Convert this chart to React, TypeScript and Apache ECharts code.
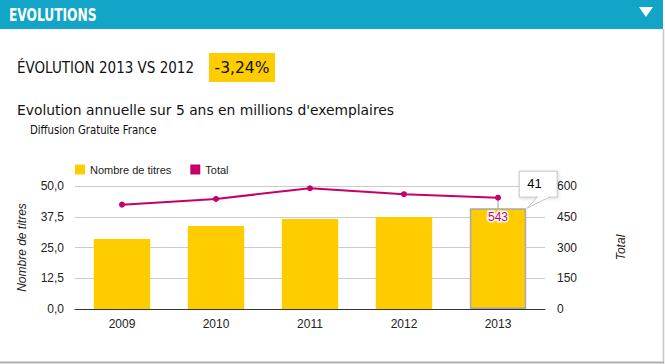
import React, { useEffect, useRef } from "react";
import * as echarts from "echarts";

const years = ["2009", "2010", "2011", "2012", "2013"];
const titres = [28.5, 33.7, 36.6, 37.4, 41];
const totals = [509, 537, 589, 560, 543];
const headerTitle = "EVOLUTIONS";
const evoLabel = "ÉVOLUTION 2013 VS 2012";
const evoValue = "-3,24%";
const subtitle = "Evolution annuelle sur 5 ans en millions d'exemplaires";
const subsubtitle = "Diffusion Gratuite France";
const focusIndex = 4;

const YELLOW = "#ffcc00";
const MAGENTA = "#c6006b";
const TEAL = "#12a5c7";

export default function App() {
  const ref = useRef<HTMLDivElement>(null);
  useEffect(() => {
    document.body.style.margin = "0";
    const chart = echarts.init(ref.current!, null, { renderer: "svg" });
    const baseGraphic: any[] = [
      { id: "hdr", type: "rect", shape: { x: 0, y: 0, width: 663, height: 29 }, style: { fill: TEAL }, z: 10 },
      {
        id: "hdrText", type: "text", x: 9, y: 15, scaleX: 0.8, z: 11,
        style: { text: headerTitle, x: 0, y: 0, fill: "#fff", font: "bold 17px 'DejaVu Sans Condensed'", textVerticalAlign: "middle" },
      },
      { id: "tri", type: "polygon", shape: { points: [[639, 7], [653, 7], [646, 17]] }, style: { fill: "#fff" }, z: 11 },
      { id: "rb", type: "line", shape: { x1: 663.5, y1: 29, x2: 663.5, y2: 364 }, style: { stroke: "#c8c8c8", lineWidth: 1.5 } },
      { id: "bb", type: "line", shape: { x1: 0, y1: 362.5, x2: 664, y2: 362.5 }, style: { stroke: "#b0b0b0", lineWidth: 2 } },
      {
        id: "evo", type: "text", x: 17, y: 68, scaleX: 1.0,
        style: { text: evoLabel, x: 0, y: 0, fill: "#111", font: "15px 'DejaVu Sans Condensed'", textVerticalAlign: "middle" },
      },
      { id: "evoBox", type: "rect", shape: { x: 209, y: 53, width: 66, height: 29 }, style: { fill: YELLOW } },
      {
        id: "evoVal", type: "text", x: 242, y: 68, scaleX: 1.15,
        style: { text: evoValue, x: 0, y: 0, fill: "#111", font: "15px 'DejaVu Sans Condensed'", textAlign: "center", textVerticalAlign: "middle" },
      },
      {
        id: "sub", type: "text", x: 17, y: 110, scaleX: 1.1,
        style: { text: subtitle, x: 0, y: 0, fill: "#111", font: "14px 'DejaVu Sans Condensed'", textVerticalAlign: "middle" },
      },
      {
        id: "subsub", type: "text", x: 30, y: 130, scaleX: 0.94,
        style: { text: subsubtitle, x: 0, y: 0, fill: "#111", font: "12px 'DejaVu Sans Condensed'", textVerticalAlign: "middle" },
      },
    ];

    const option: any = {
      animation: false,
      backgroundColor: "#fff",
      textStyle: { fontFamily: "'Liberation Sans', Arial, sans-serif" },
      legend: {
        left: 75, top: 164, padding: 0, itemWidth: 10, itemHeight: 10, itemGap: 19, icon: "rect",
        textStyle: { fontSize: 11, color: "#222" },
        data: ["Nombre de titres", "Total"],
      },
      grid: { left: 75, right: 120, top: 186, bottom: 55 },
      xAxis: {
        type: "category", data: years,
        axisLine: { lineStyle: { color: "#333" } },
        axisTick: { show: false },
        axisLabel: { color: "#222", fontSize: 12, margin: 9 },
      },
      yAxis: [
        {
          type: "value", min: 0, max: 50, interval: 12.5,
          name: "Nombre de titres", nameLocation: "middle", nameGap: 47, nameRotate: 90,
          nameTextStyle: { fontStyle: "italic", fontSize: 12, color: "#222" },
          axisLabel: { color: "#222", fontSize: 12, margin: 11, formatter: (v: number) => v.toFixed(1).replace(".", ",") },
          splitLine: { lineStyle: { color: "#cccccc" } },
          axisLine: { show: false }, axisTick: { show: false },
        },
        {
          type: "value", min: 0, max: 600, interval: 150, position: "right",
          name: "Total", nameLocation: "middle", nameGap: 70, nameRotate: 90,
          nameTextStyle: { fontStyle: "italic", fontSize: 12, color: "#222" },
          axisLabel: { color: "#222", fontSize: 12, margin: 12 },
          splitLine: { show: false },
          axisLine: { show: false }, axisTick: { show: false },
        },
      ],
      series: [
        {
          type: "bar", name: "Nombre de titres", barWidth: "60%",
          itemStyle: { color: YELLOW },
          data: titres.map((v, i) =>
            i === focusIndex ? { value: v, itemStyle: { borderColor: "#a8a8a8", borderWidth: 1.5 } } : v
          ),
        },
        {
          type: "line", name: "Total", yAxisIndex: 1, symbol: "circle", symbolSize: 6,
          lineStyle: { width: 2, color: MAGENTA }, itemStyle: { color: MAGENTA },
          label: { show: false, position: "bottom", distance: 10, color: MAGENTA, fontSize: 12, textBorderColor: "#fff", textBorderWidth: 3 },
          data: totals.map((v, i) => (i === focusIndex ? { value: v, label: { show: true } } : v)),
          z: 5,
        },
      ],
      graphic: baseGraphic,
    };
    chart.setOption(option);

    const p = chart.convertToPixel({ seriesIndex: 0 }, [focusIndex, titres[focusIndex]]) as number[];
    const c0 = chart.convertToPixel({ seriesIndex: 0 }, [0, 0]) as number[];
    const c1 = chart.convertToPixel({ seriesIndex: 0 }, [1, 0]) as number[];
    const lp = chart.convertToPixel({ seriesIndex: 1 }, [focusIndex, totals[focusIndex]]) as number[];
    const band = c1[0] - c0[0];
    const rx = p[0] + band * 0.3;
    const ty = p[1];
    const bx = rx - 7;
    const by = ty - 37;
    chart.setOption({
      graphic: [
        ...baseGraphic,
        { id: "focusLine", type: "line", shape: { x1: lp[0], y1: lp[1], x2: lp[0], y2: ty }, style: { stroke: "#999", lineWidth: 1 }, z: 4 },
        {
          id: "tipBox", type: "rect", shape: { x: bx, y: by, width: 38, height: 26 },
          style: { fill: "#fff", stroke: "#c4c4c4", lineWidth: 1, shadowBlur: 3, shadowColor: "rgba(0,0,0,0.15)", shadowOffsetX: 1, shadowOffsetY: 1 }, z: 20,
        },
        {
          id: "tipTail", type: "polygon", shape: { points: [[rx + 1, ty], [rx + 11, by + 26], [rx + 23, by + 26]] },
          style: { fill: "#fff", stroke: "#c4c4c4", lineWidth: 1 }, z: 20,
        },
        { id: "tipSeam", type: "line", shape: { x1: rx + 11.8, y1: by + 26, x2: rx + 22, y2: by + 26 }, style: { stroke: "#fff", lineWidth: 2 }, z: 21 },
        {
          id: "tipText", type: "text", x: bx + 8, y: by + 12, z: 22,
          style: { text: String(titres[focusIndex]), x: 0, y: 0, fill: "#000", font: "13px 'Liberation Sans', Arial", textVerticalAlign: "middle" },
        },
      ],
    });
    return () => chart.dispose();
  }, []);
  return <div ref={ref} style={{ position: "absolute", left: 0, top: 0, width: 665, height: 364 }} />;
}
